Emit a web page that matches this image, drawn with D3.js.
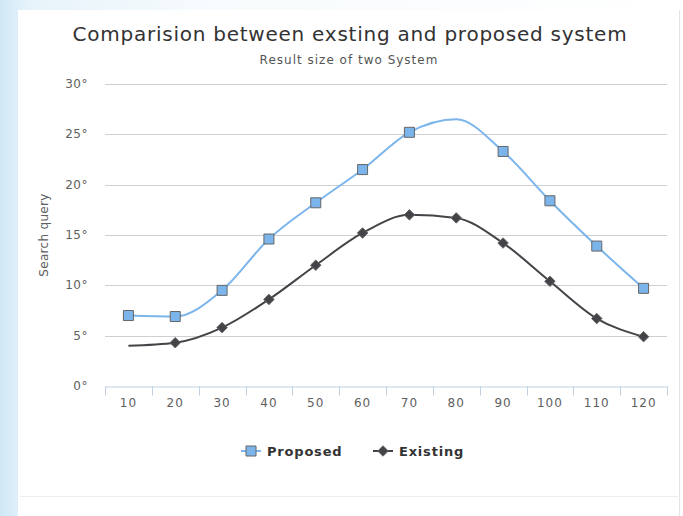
<!DOCTYPE html>
<html>
<head>
<meta charset="utf-8">
<script src="https://cdnjs.cloudflare.com/ajax/libs/d3/7.8.5/d3.min.js"></script>
<style>
  html, body { margin: 0; padding: 0; background: #fff; }
  svg { display: block; font-family: "DejaVu Sans", Verdana, sans-serif; }
</style>
</head>
<body>
<div id="chart"></div>
<script>
// chart data
const categories = [10, 20, 30, 40, 50, 60, 70, 80, 90, 100, 110, 120];
const proposed = [7.0, 6.9, 9.5, 14.6, 18.2, 21.5, 25.2, 26.5, 23.3, 18.4, 13.9, 9.7];
const existing = [4.0, 4.3, 5.8, 8.6, 12.0, 15.2, 17.0, 16.7, 14.2, 10.4, 6.7, 4.9];
const yTicks = [0, 5, 10, 15, 20, 25, 30];
// points that show no marker in the original
const proposedNoMarker = [80];
const existingNoMarker = [10];

const width = 683;
const height = 516;
const margin = { top: 84, right: 16, bottom: 130, left: 105 };

const svg = d3
  .select("#chart")
  .append("svg")
  .attr("width", width)
  .attr("height", height);

// page backdrop around the chart panel
const defs = svg.append("defs");
const bg = defs
  .append("linearGradient")
  .attr("id", "bg")
  .attr("x1", 0)
  .attr("x2", 1)
  .attr("y1", 0)
  .attr("y2", 0);
bg.append("stop").attr("offset", "0%").attr("stop-color", "#cfe8f6");
bg.append("stop").attr("offset", "4%").attr("stop-color", "#e6f3fa");
bg.append("stop").attr("offset", "30%").attr("stop-color", "#f7fbfd");
bg.append("stop").attr("offset", "100%").attr("stop-color", "#ffffff");
svg.append("rect").attr("width", width).attr("height", height).attr("fill", "url(#bg)");

// white panel
svg
  .append("rect")
  .attr("x", 18)
  .attr("y", 10)
  .attr("width", 661)
  .attr("height", height - 10)
  .attr("fill", "#fff");
svg
  .append("line")
  .attr("x1", 679.5)
  .attr("x2", 679.5)
  .attr("y1", 10)
  .attr("y2", height)
  .attr("stroke", "#e4e4e4");
svg
  .append("line")
  .attr("x1", 20)
  .attr("x2", 678)
  .attr("y1", 496.5)
  .attr("y2", 496.5)
  .attr("stroke", "#eeeeee");

const x = d3
  .scaleBand()
  .domain(categories)
  .range([margin.left, width - margin.right]);

const y = d3
  .scaleLinear()
  .domain([0, 30])
  .range([height - margin.bottom, margin.top]);

const cx = (d) => x(d) + x.bandwidth() / 2;

// title + subtitle
svg
  .append("text")
  .attr("x", 350)
  .attr("y", 41)
  .attr("text-anchor", "middle")
  .attr("fill", "#333")
  .style("font-size", "20px")
  .style("letter-spacing", "0.75px")
  .text("Comparision between exsting and proposed system");

svg
  .append("text")
  .attr("x", 349)
  .attr("y", 64)
  .attr("text-anchor", "middle")
  .attr("fill", "#555")
  .style("font-size", "12px")
  .style("letter-spacing", "1px")
  .text("Result size of two System");

// grid
svg
  .append("g")
  .selectAll("line")
  .data(yTicks.filter((d) => d > 0))
  .join("line")
  .attr("x1", margin.left)
  .attr("x2", width - margin.right)
  .attr("y1", (d) => Math.round(y(d)) + 0.5)
  .attr("y2", (d) => Math.round(y(d)) + 0.5)
  .attr("stroke", "#cfcfcf");

// y labels
svg
  .append("g")
  .selectAll("text")
  .data(yTicks)
  .join("text")
  .attr("x", 88)
  .attr("y", (d) => y(d) + 4)
  .attr("text-anchor", "end")
  .attr("fill", "#606060")
  .style("font-size", "12px")
  .style("letter-spacing", "0.5px")
  .text((d) => d + "°");

svg
  .append("text")
  .attr("transform", `translate(48,${(y(0) + y(30)) / 2}) rotate(-90)`)
  .attr("text-anchor", "middle")
  .attr("fill", "#606060")
  .style("font-size", "12px")
  .style("letter-spacing", "0.3px")
  .text("Search query");

// x axis
const xAxis = d3
  .axisBottom(x)
  .tickSize(0)
  .tickPadding(12);
const gx = svg
  .append("g")
  .attr("transform", `translate(0,${Math.round(y(0)) + 0.5})`)
  .call(xAxis);
gx.select(".domain").attr("stroke", "#c0d0e0");
gx.selectAll("text")
  .attr("fill", "#606060")
  .style("font-size", "12px")
  .style("letter-spacing", "1px")
  .style("font-family", "DejaVu Sans, sans-serif");
gx.selectAll("line.sep")
  .data(categories.concat(["end"]))
  .join("line")
  .attr("class", "sep")
  .attr("x1", (d, i) => Math.round(i < categories.length ? x(d) : x.range()[1]) + 0.5)
  .attr("x2", (d, i) => Math.round(i < categories.length ? x(d) : x.range()[1]) + 0.5)
  .attr("y1", 0)
  .attr("y2", 9)
  .attr("stroke", "#c0d0e0");

// lines
const line = d3
  .line()
  .x((d) => cx(d.cat))
  .y((d) => y(d.v))
  .curve(d3.curveMonotoneX);

const series = [
  { name: "Proposed", values: proposed, color: "#7cb5ec", marker: "square", noMarker: proposedNoMarker },
  { name: "Existing", values: existing, color: "#434348", marker: "diamond", noMarker: existingNoMarker },
];

const symbolFor = (m) =>
  m === "square" ? d3.symbol(d3.symbolSquare, 100)() : d3.symbol(d3.symbolDiamond2, 70)();

series.forEach((s) => {
  const pts = categories.map((c, i) => ({ cat: c, v: s.values[i] }));
  svg
    .append("path")
    .attr("d", line(pts))
    .attr("fill", "none")
    .attr("stroke", s.color)
    .attr("stroke-width", 2);
  svg
    .append("g")
    .selectAll("path")
    .data(pts.filter((p) => !s.noMarker.includes(p.cat)))
    .join("path")
    .attr("transform", (d) => `translate(${cx(d.cat)},${y(d.v)})`)
    .attr("d", symbolFor(s.marker))
    .attr("fill", s.color)
    .attr("stroke", "#666")
    .attr("stroke-width", 1);
});

// legend
const legendItems = [
  { s: series[0], x: 241 },
  { s: series[1], x: 373 },
];
const legend = svg.append("g").attr("transform", "translate(0,451)");
legendItems.forEach(({ s, x: lx }) => {
  const g = legend.append("g").attr("transform", `translate(${lx},0)`);
  g.append("line")
    .attr("x1", 0)
    .attr("x2", 20)
    .attr("stroke", s.color)
    .attr("stroke-width", 2);
  g.append("path")
    .attr("transform", "translate(10,0)")
    .attr("d", symbolFor(s.marker))
    .attr("fill", s.color)
    .attr("stroke", "#666");
  g.append("text")
    .attr("x", 26)
    .attr("y", 5)
    .attr("fill", "#333")
    .style("font-size", "13px")
    .style("font-weight", "bold")
    .style("letter-spacing", "0.8px")
    .text(s.name);
});
</script>
</body>
</html>
